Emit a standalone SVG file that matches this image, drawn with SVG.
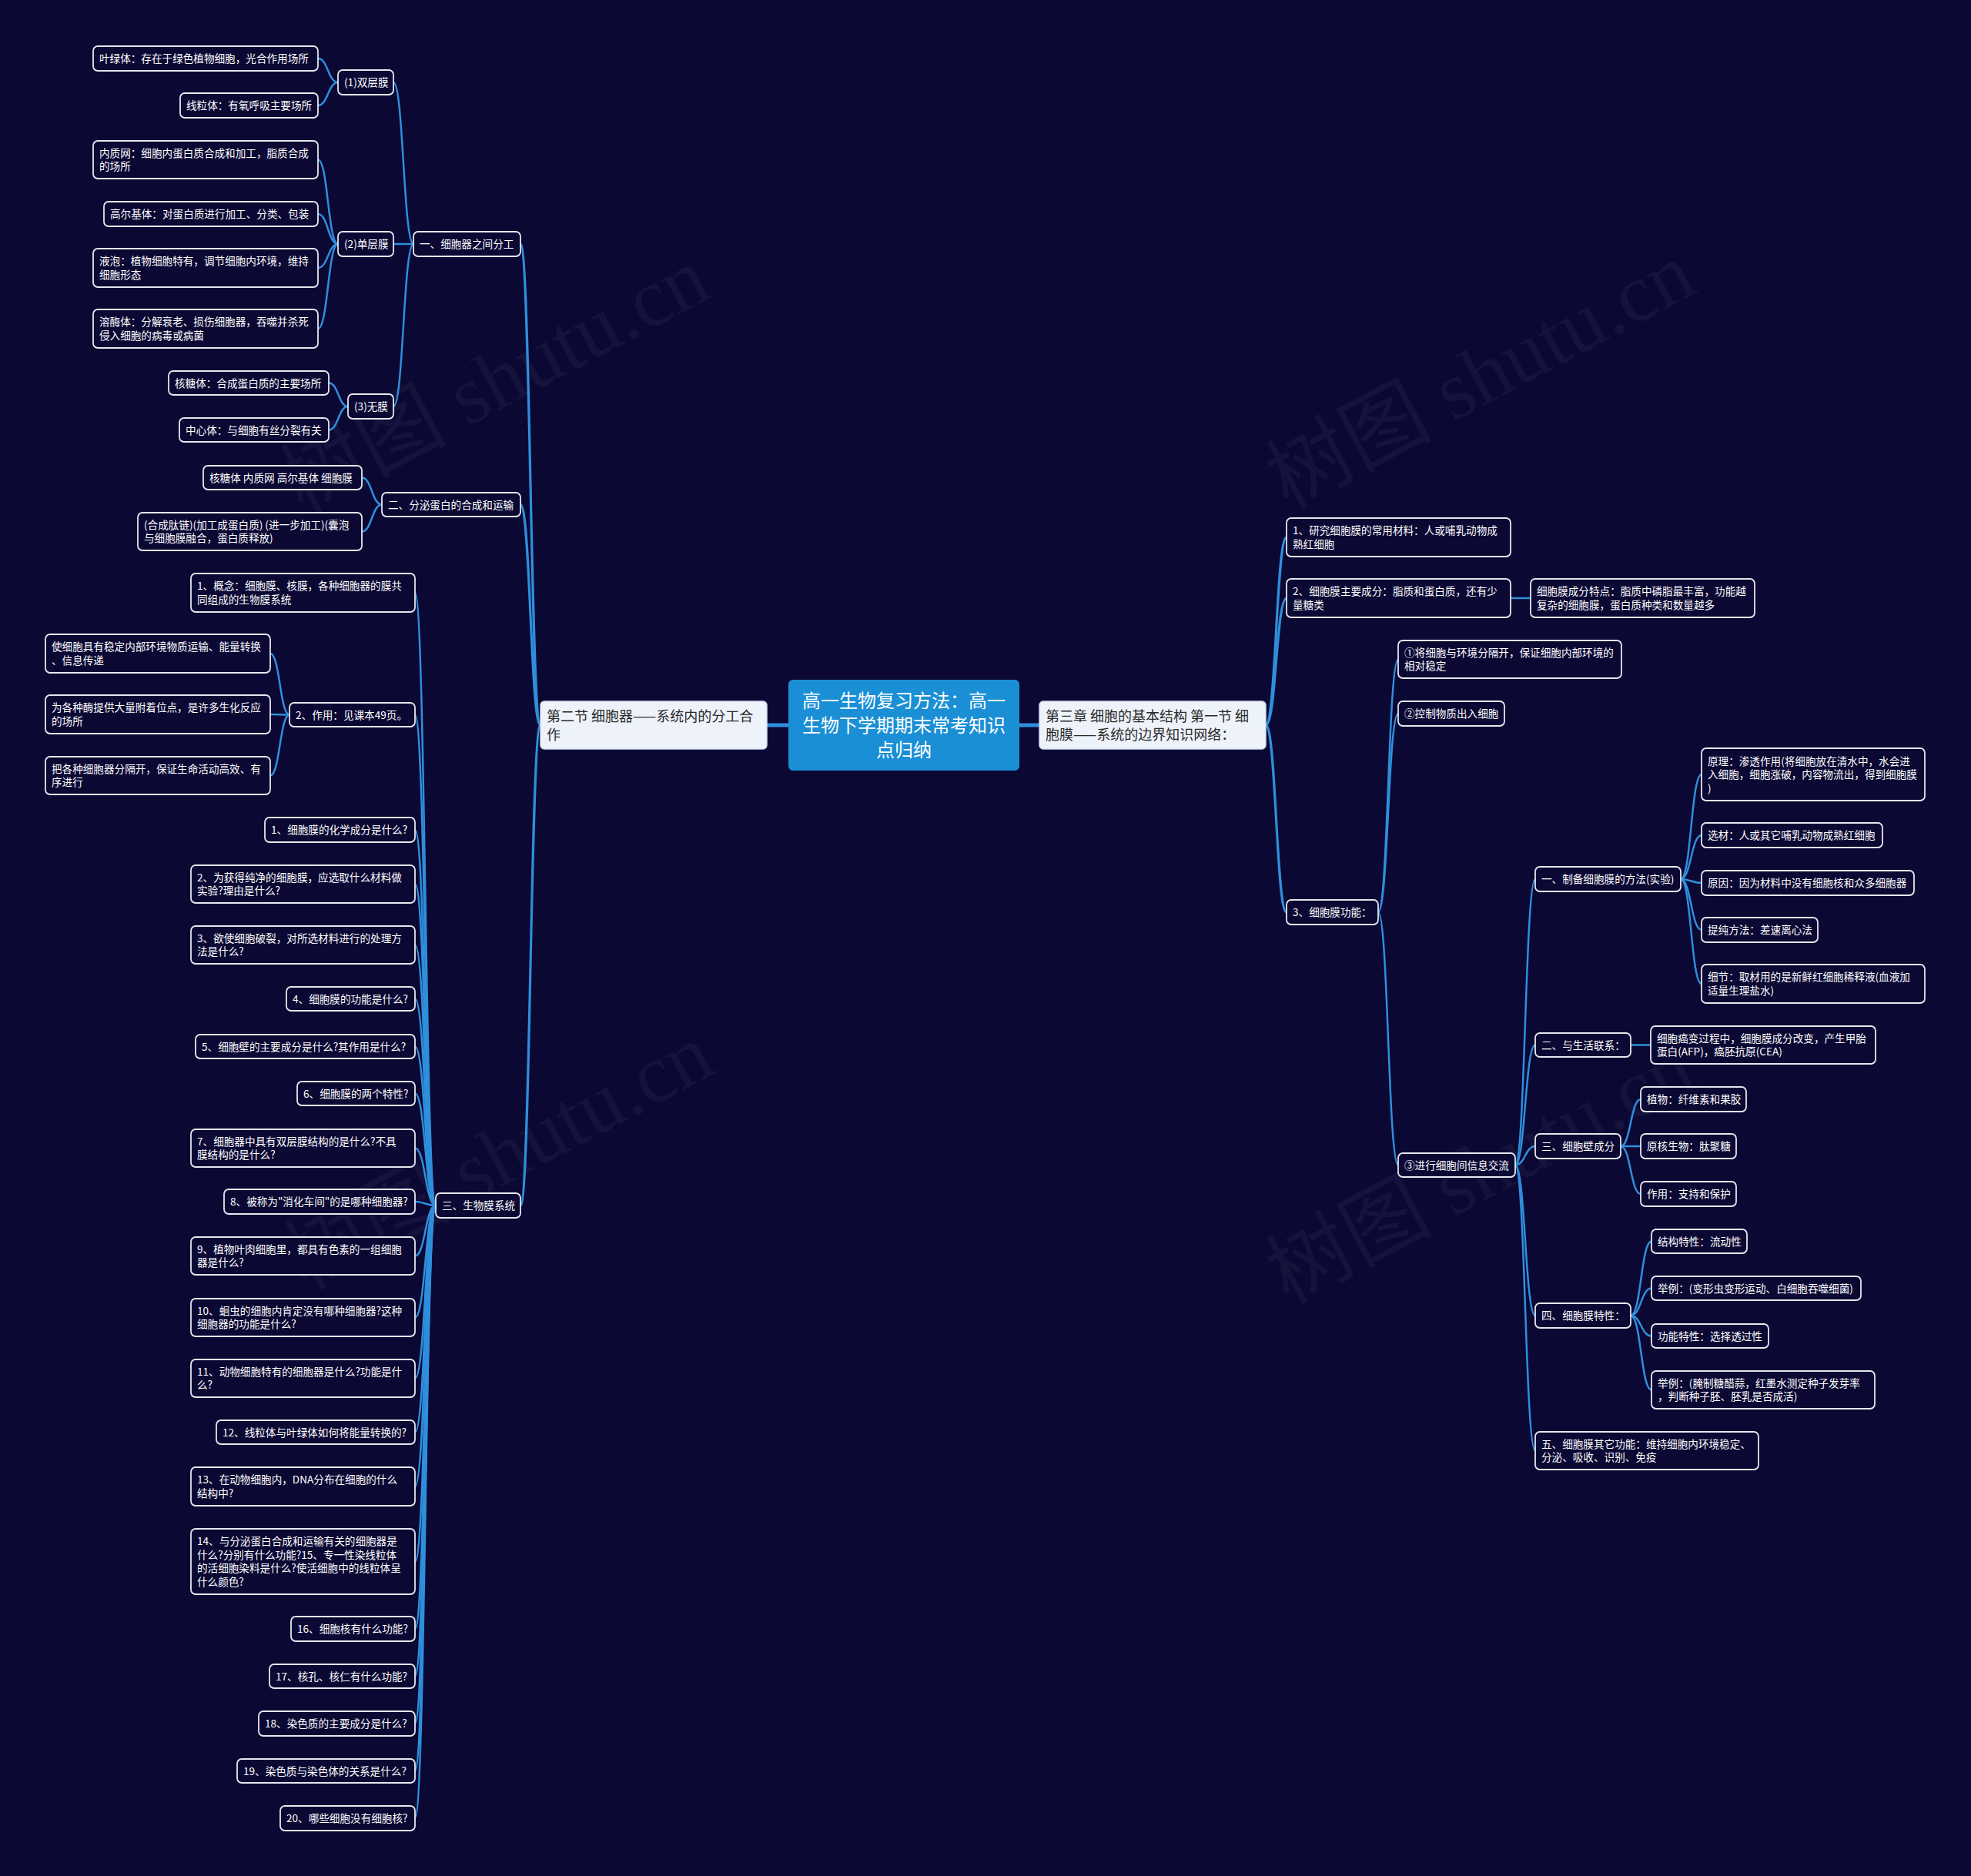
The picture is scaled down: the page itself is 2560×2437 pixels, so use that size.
<svg xmlns="http://www.w3.org/2000/svg" width="2560" height="2437" viewBox="0 0 2560 2437">
<style>
.bg{fill:#0b0833}
.n{fill:#0b0833;stroke:#e6e6ee;stroke-width:1.8}
.t{font-family:"Noto Sans CJK SC","Noto Sans",sans-serif;font-size:13.6px;fill:#ffffff}
.l1{fill:#eef3fb;stroke:#cfdcf0;stroke-width:1.5}
.t1{font-family:"Noto Sans CJK SC","Noto Sans",sans-serif;font-size:18px;fill:#2a2a2a}
.root{fill:#1b8fd6}
.tr{font-family:"Noto Sans CJK SC","Noto Sans",sans-serif;font-size:24px;fill:#ffffff;text-anchor:middle}
.c{fill:none;stroke:#2e8fdc;stroke-width:2.5}
.ct{fill:none;stroke:#2e8fdc;stroke-width:3.2}
.c0{fill:none;stroke:#2e8fdc;stroke-width:5}
.wm{font-family:"Liberation Serif","Noto Sans CJK SC",serif;font-size:108px;fill:#ffffff;fill-opacity:0.045;text-anchor:middle}
</style>
<rect class="bg" x="0" y="0" width="2560" height="2437"/>
<g id="watermark">
<text class="wm" x="645" y="530" transform="rotate(-28 645 498)">树图 shutu.cn</text>
<text class="wm" x="1925" y="524" transform="rotate(-28 1925 492)">树图 shutu.cn</text>
<text class="wm" x="650" y="1538" transform="rotate(-28 650 1506)">树图 shutu.cn</text>
<text class="wm" x="1925" y="1557" transform="rotate(-28 1925 1525)">树图 shutu.cn</text>
</g>
<g id="connectors">
<path class="c0" d="M996,942 L1024,942"/>
<path class="c0" d="M1324,942 L1350,942"/>
<path class="ct" d="M702,942 C689,942 689,317 676,317"/>
<path class="ct" d="M702,942 C689,942 689,655.5 676,655.5"/>
<path class="ct" d="M702,942 C689,942 689,1566 676,1566"/>
<path class="c" d="M537,317 C524,317 524,107 511,107"/>
<path class="c" d="M537,317 L511,317"/>
<path class="c" d="M537,317 C524,317 524,528 511,528"/>
<path class="c" d="M439,107 C426,107 426,76 413,76"/>
<path class="c" d="M439,107 C426,107 426,137 413,137"/>
<path class="c" d="M439,317 C426,317 426,207.5 413,207.5"/>
<path class="c" d="M439,317 C426,317 426,278 413,278"/>
<path class="c" d="M439,317 C426,317 426,348 413,348"/>
<path class="c" d="M439,317 C426,317 426,427 413,427"/>
<path class="c" d="M452,528 C439.5,528 439.5,497.5 427,497.5"/>
<path class="c" d="M452,528 C439.5,528 439.5,558.5 427,558.5"/>
<path class="c" d="M496,655.5 C483,655.5 483,620.5 470,620.5"/>
<path class="c" d="M496,655.5 C483,655.5 483,690.5 470,690.5"/>
<path class="c" d="M566,1566 C552.5,1566 552.5,770 539,770"/>
<path class="c" d="M566,1566 C552.5,1566 552.5,928.5 539,928.5"/>
<path class="c" d="M376,928.5 C363.5,928.5 363.5,849 351,849"/>
<path class="c" d="M376,928.5 C363.5,928.5 363.5,928 351,928"/>
<path class="c" d="M376,928.5 C363.5,928.5 363.5,1007.5 351,1007.5"/>
<path class="c" d="M566,1566 C552.5,1566 552.5,1078 539,1078"/>
<path class="c" d="M566,1566 C552.5,1566 552.5,1148.5 539,1148.5"/>
<path class="c" d="M566,1566 C552.5,1566 552.5,1227.5 539,1227.5"/>
<path class="c" d="M566,1566 C552.5,1566 552.5,1297.5 539,1297.5"/>
<path class="c" d="M566,1566 C552.5,1566 552.5,1359.5 539,1359.5"/>
<path class="c" d="M566,1566 C552.5,1566 552.5,1420.5 539,1420.5"/>
<path class="c" d="M566,1566 C552.5,1566 552.5,1491.5 539,1491.5"/>
<path class="c" d="M566,1566 C552.5,1566 552.5,1561 539,1561"/>
<path class="c" d="M566,1566 C552.5,1566 552.5,1631.5 539,1631.5"/>
<path class="c" d="M566,1566 C552.5,1566 552.5,1711.5 539,1711.5"/>
<path class="c" d="M566,1566 C552.5,1566 552.5,1790.5 539,1790.5"/>
<path class="c" d="M566,1566 C552.5,1566 552.5,1860.5 539,1860.5"/>
<path class="c" d="M566,1566 C552.5,1566 552.5,1931 539,1931"/>
<path class="c" d="M566,1566 C552.5,1566 552.5,2028.5 539,2028.5"/>
<path class="c" d="M566,1566 C552.5,1566 552.5,2116 539,2116"/>
<path class="c" d="M566,1566 C552.5,1566 552.5,2177.5 539,2177.5"/>
<path class="c" d="M566,1566 C552.5,1566 552.5,2239 539,2239"/>
<path class="c" d="M566,1566 C552.5,1566 552.5,2300.5 539,2300.5"/>
<path class="c" d="M566,1566 C552.5,1566 552.5,2362 539,2362"/>
<path class="ct" d="M1644,942 C1657.5,942 1657.5,698 1671,698"/>
<path class="ct" d="M1644,942 C1657.5,942 1657.5,777 1671,777"/>
<path class="ct" d="M1644,942 C1657.5,942 1657.5,1185 1671,1185"/>
<path class="c" d="M1962,777 L1988,777"/>
<path class="c" d="M1790,1185 C1803,1185 1803,856.5 1816,856.5"/>
<path class="c" d="M1790,1185 C1803,1185 1803,927 1816,927"/>
<path class="c" d="M1790,1185 C1803,1185 1803,1513.5 1816,1513.5"/>
<path class="c" d="M1968,1513.5 C1981,1513.5 1981,1142 1994,1142"/>
<path class="c" d="M1968,1513.5 C1981,1513.5 1981,1357.5 1994,1357.5"/>
<path class="c" d="M1968,1513.5 C1981,1513.5 1981,1489 1994,1489"/>
<path class="c" d="M1968,1513.5 C1981,1513.5 1981,1709 1994,1709"/>
<path class="c" d="M1968,1513.5 C1981,1513.5 1981,1884.5 1994,1884.5"/>
<path class="c" d="M2183,1142 C2196.5,1142 2196.5,1006 2210,1006"/>
<path class="c" d="M2183,1142 C2196.5,1142 2196.5,1085 2210,1085"/>
<path class="c" d="M2183,1142 C2196.5,1142 2196.5,1147 2210,1147"/>
<path class="c" d="M2183,1142 C2196.5,1142 2196.5,1208 2210,1208"/>
<path class="c" d="M2183,1142 C2196.5,1142 2196.5,1278 2210,1278"/>
<path class="c" d="M2118,1357.5 L2144,1357.5"/>
<path class="c" d="M2105,1489 C2118,1489 2118,1428 2131,1428"/>
<path class="c" d="M2105,1489 L2131,1489"/>
<path class="c" d="M2105,1489 C2118,1489 2118,1551 2131,1551"/>
<path class="c" d="M2118,1709 C2131.5,1709 2131.5,1612.5 2145,1612.5"/>
<path class="c" d="M2118,1709 C2131.5,1709 2131.5,1673.5 2145,1673.5"/>
<path class="c" d="M2118,1709 C2131.5,1709 2131.5,1735.5 2145,1735.5"/>
<path class="c" d="M2118,1709 C2131.5,1709 2131.5,1805.5 2145,1805.5"/>
</g>
<g id="root"><rect class="root" x="1024" y="883" width="300" height="118" rx="6"/><text class="tr" x="1174" y="919">高一生物复习方法：高一</text><text class="tr" x="1174" y="951">生物下学期期末常考知识</text><text class="tr" x="1174" y="983">点归纳</text></g>
<g id="l1-left"><rect class="l1" x="702" y="911" width="294" height="62" rx="5"/><text class="t1" x="710" y="937">第二节 细胞器——系统内的分工合</text><text class="t1" x="710" y="961">作</text></g>
<g id="l1-right"><rect class="l1" x="1350" y="911" width="294" height="62" rx="5"/><text class="t1" x="1358" y="937">第三章 细胞的基本结构 第一节 细</text><text class="t1" x="1358" y="961">胞膜——系统的边界知识网络：</text></g>
<g id="c1"><rect class="n" x="537" y="301" width="139" height="32" rx="6"/><text class="t" x="545" y="322">一、细胞器之间分工</text></g>
<g id="d1"><rect class="n" x="439" y="91" width="72" height="32" rx="6"/><text class="t" x="447" y="112">(1)双层膜</text></g>
<g id="yl"><rect class="n" x="121" y="60" width="292" height="32" rx="6"/><text class="t" x="129" y="81">叶绿体：存在于绿色植物细胞，光合作用场所</text></g>
<g id="xl"><rect class="n" x="234" y="121" width="179" height="32" rx="6"/><text class="t" x="242" y="142">线粒体：有氧呼吸主要场所</text></g>
<g id="d2"><rect class="n" x="439" y="301" width="72" height="32" rx="6"/><text class="t" x="447" y="322">(2)单层膜</text></g>
<g id="nz"><rect class="n" x="121" y="183" width="292" height="49" rx="6"/><text class="t" x="129" y="203.75">内质网：细胞内蛋白质合成和加工，脂质合成</text><text class="t" x="129" y="221.25">的场所</text></g>
<g id="ge"><rect class="n" x="135" y="262" width="278" height="32" rx="6"/><text class="t" x="143" y="283">高尔基体：对蛋白质进行加工、分类、包装</text></g>
<g id="yp"><rect class="n" x="121" y="323" width="292" height="50" rx="6"/><text class="t" x="129" y="344.25">液泡：植物细胞特有，调节细胞内环境，维持</text><text class="t" x="129" y="361.75">细胞形态</text></g>
<g id="rm"><rect class="n" x="121" y="402" width="292" height="50" rx="6"/><text class="t" x="129" y="423.25">溶酶体：分解衰老、损伤细胞器，吞噬并杀死</text><text class="t" x="129" y="440.75">侵入细胞的病毒或病菌</text></g>
<g id="d3"><rect class="n" x="452" y="512" width="59" height="32" rx="6"/><text class="t" x="460" y="533">(3)无膜</text></g>
<g id="ht"><rect class="n" x="219" y="482" width="208" height="31" rx="6"/><text class="t" x="227" y="502.5">核糖体：合成蛋白质的主要场所</text></g>
<g id="zx"><rect class="n" x="233" y="543" width="194" height="31" rx="6"/><text class="t" x="241" y="563.5">中心体：与细胞有丝分裂有关</text></g>
<g id="c2"><rect class="n" x="496" y="640" width="180" height="31" rx="6"/><text class="t" x="504" y="660.5">二、分泌蛋白的合成和运输</text></g>
<g id="fm"><rect class="n" x="264" y="605" width="206" height="31" rx="6"/><text class="t" x="272" y="625.5">核糖体 内质网 高尔基体 细胞膜</text></g>
<g id="hc"><rect class="n" x="179" y="666" width="291" height="49" rx="6"/><text class="t" x="187" y="686.75">(合成肽链)(加工成蛋白质) (进一步加工)(囊泡</text><text class="t" x="187" y="704.25">与细胞膜融合，蛋白质释放)</text></g>
<g id="c3"><rect class="n" x="566" y="1550" width="110" height="32" rx="6"/><text class="t" x="574" y="1571">三、生物膜系统</text></g>
<g id="gn"><rect class="n" x="248" y="745" width="291" height="50" rx="6"/><text class="t" x="256" y="766.25">1、概念：细胞膜、核膜，各种细胞器的膜共</text><text class="t" x="256" y="783.75">同组成的生物膜系统</text></g>
<g id="zy"><rect class="n" x="376" y="913" width="163" height="31" rx="6"/><text class="t" x="384" y="933.5">2、作用：见课本49页。</text></g>
<g id="s1"><rect class="n" x="59" y="824" width="292" height="50" rx="6"/><text class="t" x="67" y="845.25">使细胞具有稳定内部环境物质运输、能量转换</text><text class="t" x="67" y="862.75">、信息传递</text></g>
<g id="s2"><rect class="n" x="59" y="903" width="292" height="50" rx="6"/><text class="t" x="67" y="924.25">为各种酶提供大量附着位点，是许多生化反应</text><text class="t" x="67" y="941.75">的场所</text></g>
<g id="s3"><rect class="n" x="59" y="983" width="292" height="49" rx="6"/><text class="t" x="67" y="1003.75">把各种细胞器分隔开，保证生命活动高效、有</text><text class="t" x="67" y="1021.25">序进行</text></g>
<g id="q1"><rect class="n" x="344" y="1062" width="195" height="32" rx="6"/><text class="t" x="352" y="1083">1、细胞膜的化学成分是什么?</text></g>
<g id="q2"><rect class="n" x="248" y="1124" width="291" height="49" rx="6"/><text class="t" x="256" y="1144.75">2、为获得纯净的细胞膜，应选取什么材料做</text><text class="t" x="256" y="1162.25">实验?理由是什么?</text></g>
<g id="q3"><rect class="n" x="248" y="1203" width="291" height="49" rx="6"/><text class="t" x="256" y="1223.75">3、欲使细胞破裂，对所选材料进行的处理方</text><text class="t" x="256" y="1241.25">法是什么?</text></g>
<g id="q4"><rect class="n" x="372" y="1282" width="167" height="31" rx="6"/><text class="t" x="380" y="1302.5">4、细胞膜的功能是什么?</text></g>
<g id="q5"><rect class="n" x="254" y="1344" width="285" height="31" rx="6"/><text class="t" x="262" y="1364.5">5、细胞壁的主要成分是什么?其作用是什么?</text></g>
<g id="q6"><rect class="n" x="386" y="1405" width="153" height="31" rx="6"/><text class="t" x="394" y="1425.5">6、细胞膜的两个特性?</text></g>
<g id="q7"><rect class="n" x="248" y="1467" width="291" height="49" rx="6"/><text class="t" x="256" y="1487.75">7、细胞器中具有双层膜结构的是什么?不具</text><text class="t" x="256" y="1505.25">膜结构的是什么?</text></g>
<g id="q8"><rect class="n" x="291" y="1545" width="248" height="32" rx="6"/><text class="t" x="299" y="1566">8、被称为"消化车间"的是哪种细胞器?</text></g>
<g id="q9"><rect class="n" x="248" y="1607" width="291" height="49" rx="6"/><text class="t" x="256" y="1627.75">9、植物叶肉细胞里，都具有色素的一组细胞</text><text class="t" x="256" y="1645.25">器是什么?</text></g>
<g id="q10"><rect class="n" x="248" y="1687" width="291" height="49" rx="6"/><text class="t" x="256" y="1707.75">10、蛔虫的细胞内肯定没有哪种细胞器?这种</text><text class="t" x="256" y="1725.25">细胞器的功能是什么?</text></g>
<g id="q11"><rect class="n" x="248" y="1766" width="291" height="49" rx="6"/><text class="t" x="256" y="1786.75">11、动物细胞特有的细胞器是什么?功能是什</text><text class="t" x="256" y="1804.25">么?</text></g>
<g id="q12"><rect class="n" x="281" y="1845" width="258" height="31" rx="6"/><text class="t" x="289" y="1865.5">12、线粒体与叶绿体如何将能量转换的?</text></g>
<g id="q13"><rect class="n" x="248" y="1906" width="291" height="50" rx="6"/><text class="t" x="256" y="1927.25">13、在动物细胞内，DNA分布在细胞的什么</text><text class="t" x="256" y="1944.75">结构中?</text></g>
<g id="q14"><rect class="n" x="248" y="1986" width="291" height="85" rx="6"/><text class="t" x="256" y="2007.25">14、与分泌蛋白合成和运输有关的细胞器是</text><text class="t" x="256" y="2024.75">什么?分别有什么功能?15、专一性染线粒体</text><text class="t" x="256" y="2042.25">的活细胞染料是什么?使活细胞中的线粒体呈</text><text class="t" x="256" y="2059.75">什么颜色?</text></g>
<g id="q16"><rect class="n" x="378" y="2100" width="161" height="32" rx="6"/><text class="t" x="386" y="2121">16、细胞核有什么功能?</text></g>
<g id="q17"><rect class="n" x="350" y="2162" width="189" height="31" rx="6"/><text class="t" x="358" y="2182.5">17、核孔、核仁有什么功能?</text></g>
<g id="q18"><rect class="n" x="336" y="2223" width="203" height="32" rx="6"/><text class="t" x="344" y="2244">18、染色质的主要成分是什么?</text></g>
<g id="q19"><rect class="n" x="308" y="2285" width="231" height="31" rx="6"/><text class="t" x="316" y="2305.5">19、染色质与染色体的关系是什么?</text></g>
<g id="q20"><rect class="n" x="364" y="2346" width="175" height="32" rx="6"/><text class="t" x="372" y="2367">20、哪些细胞没有细胞核?</text></g>
<g id="r1"><rect class="n" x="1671" y="673" width="291" height="50" rx="6"/><text class="t" x="1679" y="694.25">1、研究细胞膜的常用材料：人或哺乳动物成</text><text class="t" x="1679" y="711.75">熟红细胞</text></g>
<g id="r2"><rect class="n" x="1671" y="752" width="291" height="50" rx="6"/><text class="t" x="1679" y="773.25">2、细胞膜主要成分：脂质和蛋白质，还有少</text><text class="t" x="1679" y="790.75">量糖类</text></g>
<g id="r2a"><rect class="n" x="1988" y="752" width="291" height="50" rx="6"/><text class="t" x="1996" y="773.25">细胞膜成分特点：脂质中磷脂最丰富，功能越</text><text class="t" x="1996" y="790.75">复杂的细胞膜，蛋白质种类和数量越多</text></g>
<g id="r3"><rect class="n" x="1671" y="1169" width="119" height="32" rx="6"/><text class="t" x="1679" y="1190">3、细胞膜功能：</text></g>
<g id="f1"><rect class="n" x="1816" y="832" width="290" height="49" rx="6"/><text class="t" x="1824" y="852.75">①将细胞与环境分隔开，保证细胞内部环境的</text><text class="t" x="1824" y="870.25">相对稳定</text></g>
<g id="f2"><rect class="n" x="1816" y="911" width="138" height="32" rx="6"/><text class="t" x="1824" y="932">②控制物质出入细胞</text></g>
<g id="f3"><rect class="n" x="1816" y="1498" width="152" height="31" rx="6"/><text class="t" x="1824" y="1518.5">③进行细胞间信息交流</text></g>
<g id="a1"><rect class="n" x="1994" y="1126" width="189" height="32" rx="6"/><text class="t" x="2002" y="1147">一、制备细胞膜的方法(实验)</text></g>
<g id="a1a"><rect class="n" x="2210" y="972" width="290" height="68" rx="6"/><text class="t" x="2218" y="993.5">原理：渗透作用(将细胞放在清水中，水会进</text><text class="t" x="2218" y="1011">入细胞，细胞涨破，内容物流出，得到细胞膜</text><text class="t" x="2218" y="1028.5">)</text></g>
<g id="a1b"><rect class="n" x="2210" y="1069" width="235" height="32" rx="6"/><text class="t" x="2218" y="1090">选材：人或其它哺乳动物成熟红细胞</text></g>
<g id="a1c"><rect class="n" x="2210" y="1131" width="276" height="32" rx="6"/><text class="t" x="2218" y="1152">原因：因为材料中没有细胞核和众多细胞器</text></g>
<g id="a1d"><rect class="n" x="2210" y="1192" width="151" height="32" rx="6"/><text class="t" x="2218" y="1213">提纯方法：差速离心法</text></g>
<g id="a1e"><rect class="n" x="2210" y="1253" width="290" height="50" rx="6"/><text class="t" x="2218" y="1274.25">细节：取材用的是新鲜红细胞稀释液(血液加</text><text class="t" x="2218" y="1291.75">适量生理盐水)</text></g>
<g id="a2"><rect class="n" x="1994" y="1342" width="124" height="31" rx="6"/><text class="t" x="2002" y="1362.5">二、与生活联系：</text></g>
<g id="a2a"><rect class="n" x="2144" y="1333" width="292" height="49" rx="6"/><text class="t" x="2152" y="1353.75">细胞癌变过程中，细胞膜成分改变，产生甲胎</text><text class="t" x="2152" y="1371.25">蛋白(AFP)，癌胚抗原(CEA)</text></g>
<g id="a3"><rect class="n" x="1994" y="1473" width="111" height="32" rx="6"/><text class="t" x="2002" y="1494">三、细胞壁成分</text></g>
<g id="a3a"><rect class="n" x="2131" y="1412" width="137" height="32" rx="6"/><text class="t" x="2139" y="1433">植物：纤维素和果胶</text></g>
<g id="a3b"><rect class="n" x="2131" y="1473" width="124" height="32" rx="6"/><text class="t" x="2139" y="1494">原核生物：肽聚糖</text></g>
<g id="a3c"><rect class="n" x="2131" y="1535" width="124" height="32" rx="6"/><text class="t" x="2139" y="1556">作用：支持和保护</text></g>
<g id="a4"><rect class="n" x="1994" y="1693" width="124" height="32" rx="6"/><text class="t" x="2002" y="1714">四、细胞膜特性：</text></g>
<g id="a4a"><rect class="n" x="2145" y="1597" width="124" height="31" rx="6"/><text class="t" x="2153" y="1617.5">结构特性：流动性</text></g>
<g id="a4b"><rect class="n" x="2145" y="1658" width="272" height="31" rx="6"/><text class="t" x="2153" y="1678.5">举例：(变形虫变形运动、白细胞吞噬细菌)</text></g>
<g id="a4c"><rect class="n" x="2145" y="1720" width="152" height="31" rx="6"/><text class="t" x="2153" y="1740.5">功能特性：选择透过性</text></g>
<g id="a4d"><rect class="n" x="2145" y="1781" width="290" height="49" rx="6"/><text class="t" x="2153" y="1801.75">举例：(腌制糖醋蒜，红墨水测定种子发芽率</text><text class="t" x="2153" y="1819.25">，判断种子胚、胚乳是否成活)</text></g>
<g id="a5"><rect class="n" x="1994" y="1860" width="290" height="49" rx="6"/><text class="t" x="2002" y="1880.75">五、细胞膜其它功能：维持细胞内环境稳定、</text><text class="t" x="2002" y="1898.25">分泌、吸收、识别、免疫</text></g>
</svg>
